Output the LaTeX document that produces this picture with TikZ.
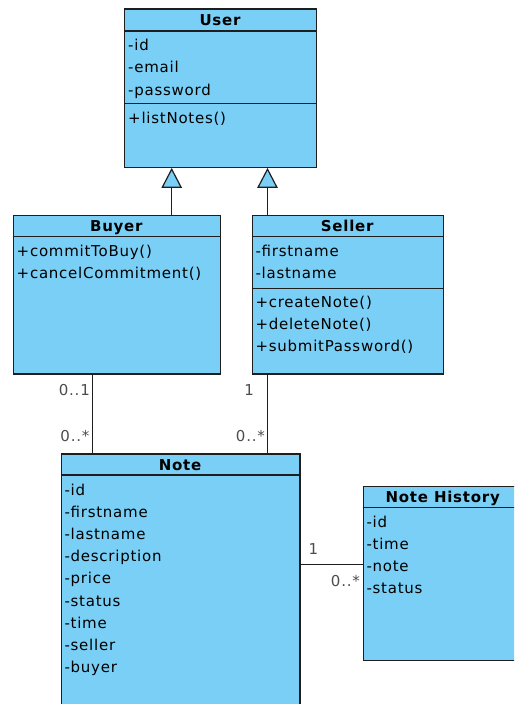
\documentclass[tikz,border=0pt]{standalone}
\usepackage{fontspec}
\setmainfont{DejaVu Sans}[LetterSpace=5]
\usetikzlibrary{arrows.meta}

\definecolor{umlblue}{RGB}{121,207,245}
\definecolor{umlline}{RGB}{30,30,30}

\tikzset{
  classbox/.style={draw=umlline, fill=umlblue, line width=1.2pt, anchor=north west, inner sep=0pt},
  divider/.style={draw=umlline, line width=1.2pt},
  classname/.style={font=\fontsize{15}{18}\selectfont\bfseries, anchor=base, inner sep=0pt},
  member/.style={font=\fontsize{15}{18}\selectfont, anchor=base west, inner sep=0pt},
  mult/.style={font=\fontsize{15}{18}\selectfont, text=black!70, inner sep=0pt},
  inherit/.style={draw=umlline, line width=1.2pt, -{Triangle[fill=umlblue, length=20pt, width=20.5pt]}},
  assoc/.style={draw=umlline, line width=1.2pt}
}

\begin{document}
\begin{tikzpicture}[x=1pt, y=-1pt]
  \useasboundingbox (0,0) rectangle (514,704);
  \clip (0,0) rectangle (514,704);

  % User
  \node[classbox, minimum width=192pt, minimum height=158.4pt] (User) at (124,8.3) {};
  \node[classname] (User-name) at (220,25) {User};
  \draw[divider] (User.west |- 0,31) -- (User.east |- 0,31);
  \draw[divider] (User.west |- 0,103.3) -- (User.east |- 0,103.3);
  \foreach \txt [count=\i from 0] in {-id,-email,-password}
    \node[member] (User-a\i) at (128,50+22.5*\i) {\txt};
  \node[member] (User-m0) at (128,123.3) {+listNotes()};

  % Buyer
  \node[classbox, minimum width=207.3pt, minimum height=158.3pt] (Buyer) at (12.7,215) {};
  \node[classname] (Buyer-name) at (116.3,231.7) {Buyer};
  \draw[divider] (Buyer.west |- 0,236.8) -- (Buyer.east |- 0,236.8);
  \foreach \txt [count=\i from 0] in {+commitToBuy(),+cancelCommitment()}
    \node[member] (Buyer-m\i) at (16.5,256.7+22*\i) {\txt};

  % Seller
  \node[classbox, minimum width=191pt, minimum height=158.3pt] (Seller) at (251.7,215) {};
  \node[classname] (Seller-name) at (347.2,231.7) {Seller};
  \draw[divider] (Seller.west |- 0,236.8) -- (Seller.east |- 0,236.8);
  \draw[divider] (Seller.west |- 0,288.3) -- (Seller.east |- 0,288.3);
  \foreach \txt [count=\i from 0] in {-firstname,-lastname}
    \node[member] (Seller-a\i) at (255.3,256.7+22*\i) {\txt};
  \foreach \txt [count=\i from 0] in {+createNote(),+deleteNote(),+submitPassword()}
    \node[member] (Seller-m\i) at (255.3,307.5+22.2*\i) {\txt};

  % Note
  \node[classbox, minimum width=238.6pt, minimum height=262pt] (Note) at (60.7,453.3) {};
  \node[classname] (Note-name) at (180,470) {Note};
  \draw[divider] (Note.west |- 0,475) -- (Note.east |- 0,475);
  \foreach \txt [count=\i from 0] in {-id,-firstname,-lastname,-description,-price,-status,-time,-seller,-buyer}
    \node[member] (Note-a\i) at (64.3,495+22.2*\i) {\txt};

  % Note History
  \node[classbox, minimum width=160pt, minimum height=174.3pt] (History) at (362.7,485.7) {};
  \node[classname] (History-name) at (442.7,502.7) {Note History};
  \draw[divider] (History.west |- 0,507.3) -- (History.east |- 0,507.3);
  \foreach \txt [count=\i from 0] in {-id,-time,-note,-status}
    \node[member] (History-a\i) at (366.3,527.3+22.2*\i) {\txt};

  % generalisation
  \draw[inherit] (Buyer.north -| 171.7,0) -- (User.south -| 171.7,0);
  \draw[inherit] (Seller.north -| 267.5,0) -- (User.south -| 267.5,0);

  % associations
  \draw[assoc] (Buyer.south -| 92.3,0) -- (Note.north -| 92.3,0);
  \draw[assoc] (Seller.south -| 267.5,0) -- (Note.north -| 267.5,0);
  \draw[assoc] (Note.east |- 0,564.3) -- (History.west |- 0,564.3);

  % multiplicities
  \node[mult, anchor=base east] (buyer-one) at (90,395) {0..1};
  \node[mult, anchor=base east] (buyer-many) at (89.5,441.7) {0..*};
  \node[mult, anchor=base east] (seller-one) at (254,395) {1};
  \node[mult, anchor=base east] (seller-many) at (265,441.7) {0..*};
  \node[mult, anchor=base] (note-one) at (313.5,554) {1};
  \node[mult, anchor=base east] (history-many) at (360,586) {0..*};
\end{tikzpicture}
\end{document}
